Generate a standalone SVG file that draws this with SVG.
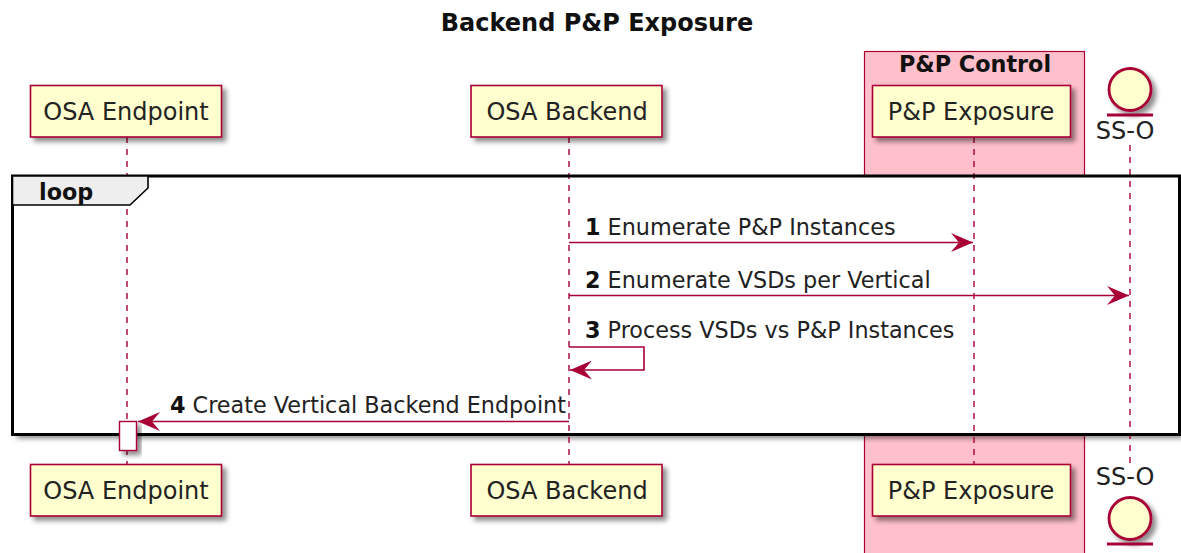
<svg xmlns="http://www.w3.org/2000/svg" width="1181" height="553" viewBox="0 0 1181 553">
  <defs>
    <filter id="shadow" x="-20%" y="-20%" width="150%" height="160%">
      <feDropShadow dx="4" dy="4" stdDeviation="2.5" flood-color="#000" flood-opacity="0.45"/>
    </filter>
    <marker id="arrow" viewBox="0 0 22 19" refX="22" refY="9.5" markerWidth="22" markerHeight="19" markerUnits="userSpaceOnUse" orient="auto">
      <path d="M22,9.5 L0,0 L8,9.5 L0,19 Z" fill="#A80036"/>
    </marker>
    <style>
      .title { font-family: "DejaVu Sans", sans-serif; font-size: 24px; font-weight: bold; fill: #111; }
      .part rect { fill: #FEFECE; stroke: #A80036; stroke-width: 1.6; }
      .part text, .ent text { font-family: "DejaVu Sans", sans-serif; font-size: 24px; fill: #222; text-anchor: middle; }
      .life { stroke: #A80036; stroke-width: 1.4; stroke-dasharray: 6 6; fill: none; }
      .msg { stroke: #A80036; stroke-width: 1.6; fill: none; }
      .lbl { font-family: "DejaVu Sans", sans-serif; font-size: 22.3px; fill: #222; }
      .num { font-weight: bold; fill: #111; }
      .bold { font-family: "DejaVu Sans", sans-serif; font-size: 22.3px; font-weight: bold; fill: #111; }
      .ent circle { fill: #FEFECE; stroke: #A80036; stroke-width: 2.8; }
      .ent line { stroke: #A80036; stroke-width: 2.8; }
    </style>
  </defs>

  <rect width="1181" height="553" fill="#FFFFFF"/>

  <text class="title" x="597" y="31" text-anchor="middle">Backend P&amp;P Exposure</text>

  <!-- P&P Control box -->
  <g id="box-pp-control">
    <rect x="864.5" y="51.5" width="220" height="510" fill="#FFC0CB" stroke="#A80036" stroke-width="1.2"/>
    <text class="bold" x="975" y="72" text-anchor="middle">P&amp;P Control</text>
  </g>

  <!-- loop frame background -->
  <rect x="12.5" y="176" width="1167" height="258.5" fill="#FFFFFF" filter="url(#shadow)"/>

  <!-- lifelines -->
  <g id="lifelines">
    <line class="life" x1="127" y1="137" x2="127" y2="464"/>
    <line class="life" x1="569" y1="137" x2="569" y2="464"/>
    <line class="life" x1="974" y1="137" x2="974" y2="464"/>
    <line class="life" x1="1130" y1="145" x2="1130" y2="466"/>
  </g>

  <!-- loop frame border and tab -->
  <g id="loop">
    <rect x="12.5" y="176" width="1167" height="258.5" fill="none" stroke="#000" stroke-width="3"/>
    <path d="M12.5,176 L148,176 L148,188 L130,205 L12.5,205 Z" fill="#EEEEEE" stroke="#000" stroke-width="1.6"/>
    <text class="bold" x="39" y="200">loop</text>
  </g>

  <!-- activation on OSA Endpoint -->
  <rect id="activation" x="119.5" y="421.5" width="17" height="29" fill="#FFFFFF" stroke="#A80036" stroke-width="1.4" filter="url(#shadow)"/>

  <!-- participants -->
  <g id="osa-endpoint" class="part">
    <rect x="30.5" y="85.5" width="191" height="51.5" filter="url(#shadow)"/>
    <text x="126" y="120">OSA Endpoint</text>
    <rect x="30.5" y="464.5" width="191" height="51.5" filter="url(#shadow)"/>
    <text x="126" y="499">OSA Endpoint</text>
  </g>
  <g id="osa-backend" class="part">
    <rect x="471" y="85.5" width="191" height="51.5" filter="url(#shadow)"/>
    <text x="567" y="120">OSA Backend</text>
    <rect x="471" y="464.5" width="191" height="51.5" filter="url(#shadow)"/>
    <text x="567" y="499">OSA Backend</text>
  </g>
  <g id="pp-exposure" class="part">
    <rect x="872.5" y="85.5" width="198" height="51.5" filter="url(#shadow)"/>
    <text x="971" y="120">P&amp;P Exposure</text>
    <rect x="872.5" y="464.5" width="198" height="51.5" filter="url(#shadow)"/>
    <text x="971" y="499">P&amp;P Exposure</text>
  </g>
  <g id="ss-o" class="ent">
    <circle cx="1130" cy="89.5" r="21" filter="url(#shadow)"/>
    <line x1="1107" y1="115" x2="1153" y2="115"/>
    <text x="1125" y="139">SS-O</text>
    <text x="1125" y="485">SS-O</text>
    <circle cx="1130" cy="518.5" r="21" filter="url(#shadow)"/>
    <line x1="1107" y1="544" x2="1153" y2="544"/>
  </g>

  <!-- messages -->
  <g id="connectors">
    <line class="msg" x1="569" y1="242.5" x2="973" y2="242.5" marker-end="url(#arrow)"/>
    <text class="lbl" x="585" y="235"><tspan class="num">1</tspan> Enumerate P&amp;P Instances</text>

    <line class="msg" x1="569" y1="295.5" x2="1129" y2="295.5" marker-end="url(#arrow)"/>
    <text class="lbl" x="585" y="288"><tspan class="num">2</tspan> Enumerate VSDs per Vertical</text>

    <polyline class="msg" points="569,347 644,347 644,370 570,370" marker-end="url(#arrow)"/>
    <text class="lbl" x="585" y="338"><tspan class="num">3</tspan> Process VSDs vs P&amp;P Instances</text>

    <line class="msg" x1="569" y1="421.5" x2="138" y2="421.5" marker-end="url(#arrow)"/>
    <text class="lbl" x="170" y="413"><tspan class="num">4</tspan> Create Vertical Backend Endpoint</text>
  </g>
</svg>
